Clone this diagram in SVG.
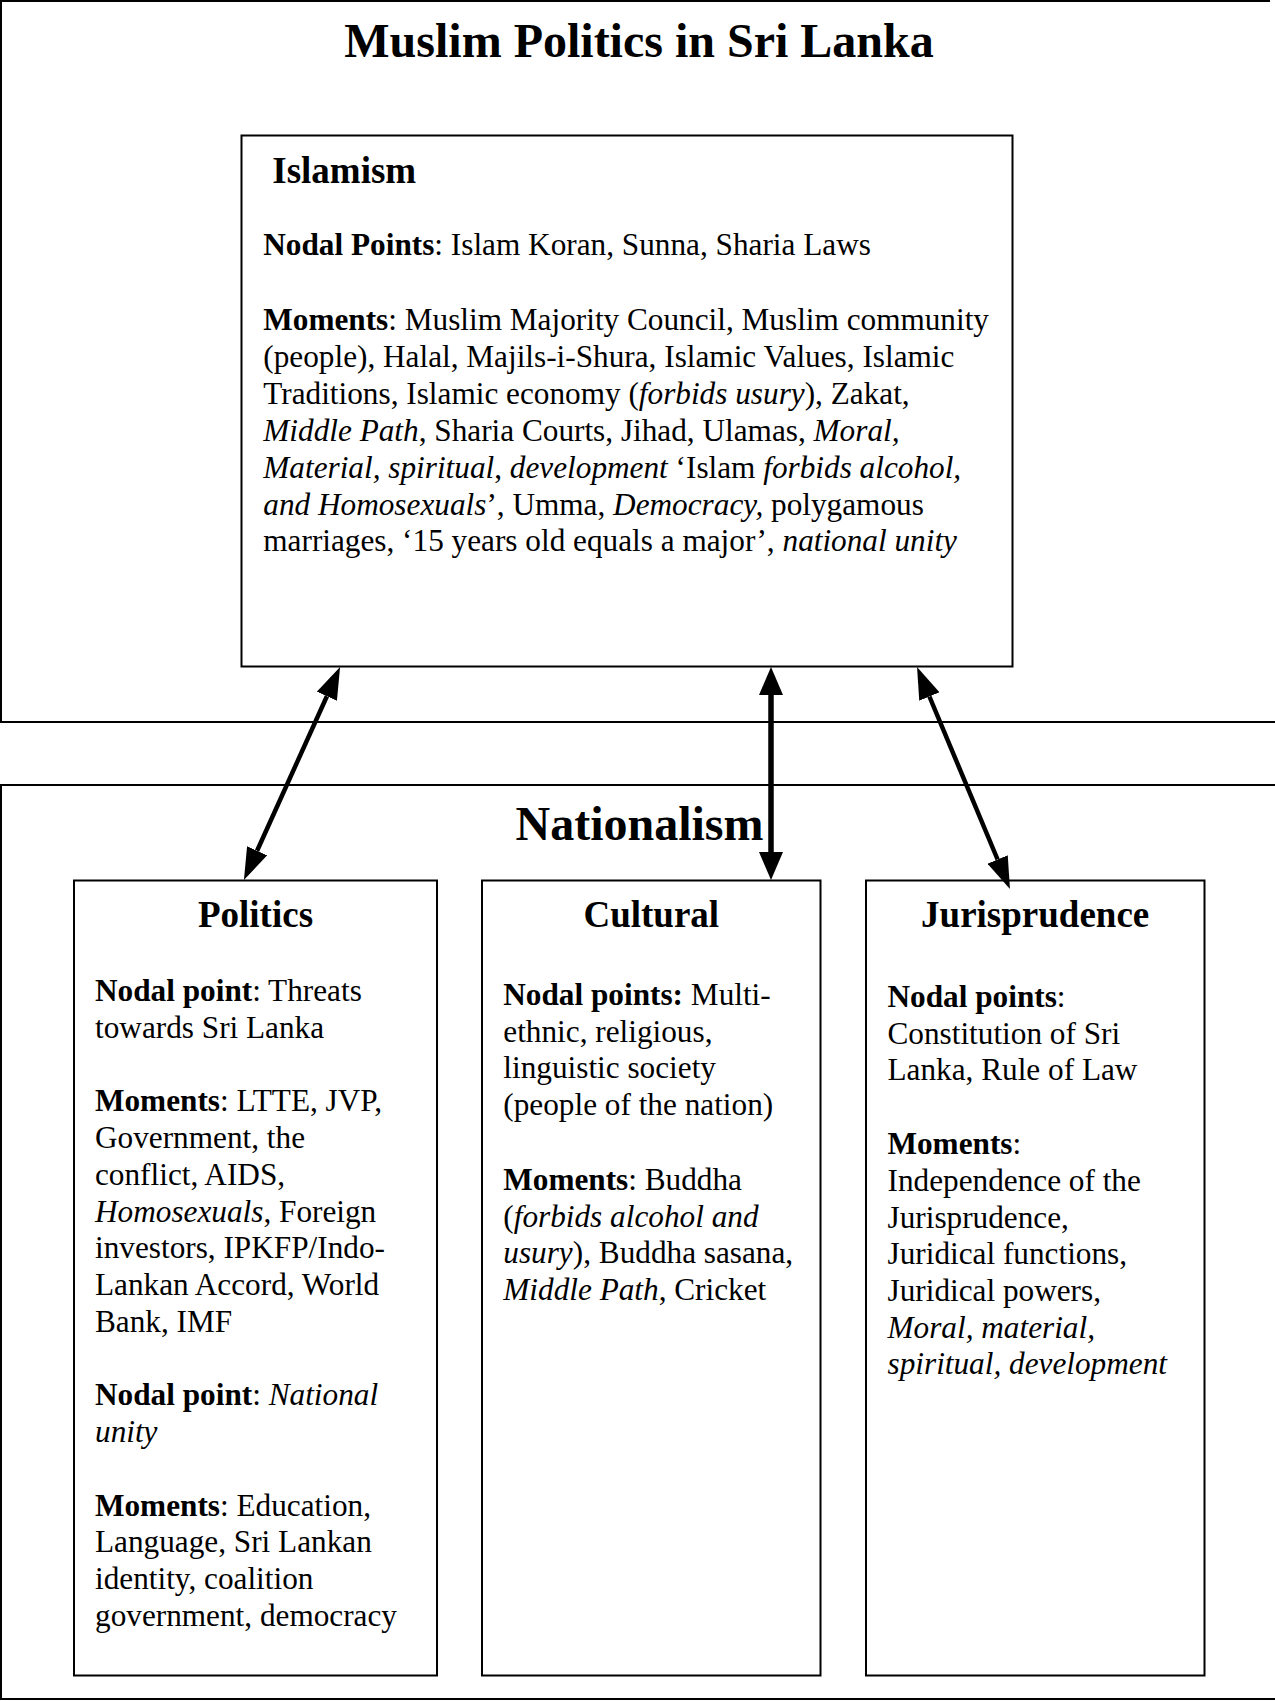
<svg xmlns="http://www.w3.org/2000/svg" width="1275" height="1701" viewBox="0 0 1275 1701">
<style>
text { font-family: "Liberation Serif", "Times New Roman", serif; fill: #000; }
.body { font-size: 31.25px; }
.h { font-size: 37px; font-weight: bold; }
.title { font-size: 48px; font-weight: bold; }
.b { font-weight: bold; }
.i { font-style: italic; }
.box { fill: #fff; stroke: #000; stroke-width: 2; }
.frame { fill: none; stroke: #000; stroke-width: 2; }
.conn { stroke: #000; fill: none; }
</style>
<defs>
<marker id="ah" markerUnits="userSpaceOnUse" markerWidth="32" markerHeight="22" refX="0" refY="11" orient="auto-start-reverse">
<path d="M0,0 L32,11 L0,22 z" fill="#000"/>
</marker>
<marker id="ahm" markerUnits="userSpaceOnUse" markerWidth="28" markerHeight="24" refX="0" refY="12" orient="auto-start-reverse">
<path d="M0,0 L28,12 L0,24 z" fill="#000"/>
</marker>
</defs>
<rect width="1275" height="1701" fill="#fff"/>

<g id="muslim-politics">
<path class="frame" d="M1270,1 H1 V722 H1275"/>
<text class="title" x="639" y="57" text-anchor="middle">Muslim Politics in Sri Lanka</text>
</g>

<g id="nationalism">
<path class="frame" d="M1275,785 H1 V1699 H1275"/>
<text class="title" x="639.5" y="840" text-anchor="middle">Nationalism</text>
</g>

<g id="islamism">
<rect class="box" x="241.5" y="135.5" width="771" height="531"/>
<text class="h" x="272.3" y="183.3">Islamism</text>
<text class="body" x="263.3" y="255"><tspan class="b">Nodal Points</tspan>: Islam Koran, Sunna, Sharia Laws</text>
<text class="body" x="263.3" y="330"><tspan class="b">Moments</tspan>: Muslim Majority Council, Muslim community</text>
<text class="body" x="263.3" y="366.9">(people), Halal, Majils-i-Shura, Islamic Values, Islamic</text>
<text class="body" x="263.3" y="403.8">Traditions, Islamic economy (<tspan class="i">forbids usury</tspan>), Zakat,</text>
<text class="body" x="263.3" y="440.7"><tspan class="i">Middle Path</tspan>, Sharia Courts, Jihad, Ulamas, <tspan class="i">Moral,</tspan></text>
<text class="body" x="263.3" y="477.6"><tspan class="i">Material, spiritual</tspan>, <tspan class="i">development</tspan> ‘Islam <tspan class="i">forbids alcohol,</tspan></text>
<text class="body" x="263.3" y="514.5"><tspan class="i">and Homosexuals</tspan>’, Umma, <tspan class="i">Democracy,</tspan> polygamous</text>
<text class="body" x="263.3" y="551.4">marriages, ‘15 years old equals a major’, <tspan class="i">national unity</tspan></text>
</g>

<g id="politics">
<rect class="box" x="74" y="880.5" width="363" height="795"/>
<text class="h" x="255.5" y="926.7" text-anchor="middle">Politics</text>
<text class="body" x="95" y="1000.7"><tspan class="b">Nodal point</tspan>: Threats</text>
<text class="body" x="95" y="1037.5">towards Sri Lanka</text>
<text class="body" x="95" y="1111.2"><tspan class="b">Moments</tspan>: LTTE, JVP,</text>
<text class="body" x="95" y="1148">Government, the</text>
<text class="body" x="95" y="1184.7">conflict, AIDS,</text>
<text class="body" x="95" y="1221.5"><tspan class="i">Homosexuals</tspan>, Foreign</text>
<text class="body" x="95" y="1258.2">investors, IPKFP/Indo-</text>
<text class="body" x="95" y="1295">Lankan Accord, World</text>
<text class="body" x="95" y="1331.7">Bank, IMF</text>
<text class="body" x="95" y="1405.2"><tspan class="b">Nodal point</tspan>: <tspan class="i">National</tspan></text>
<text class="body" x="95" y="1442"><tspan class="i">unity</tspan></text>
<text class="body" x="95" y="1515.5"><tspan class="b">Moments</tspan>: Education,</text>
<text class="body" x="95" y="1552.2">Language, Sri Lankan</text>
<text class="body" x="95" y="1589">identity, coalition</text>
<text class="body" x="95" y="1625.7">government, democracy</text>
</g>

<g id="cultural">
<rect class="box" x="482" y="880.5" width="338.5" height="795"/>
<text class="h" x="651.3" y="926.7" text-anchor="middle">Cultural</text>
<text class="body" x="503.3" y="1005"><tspan class="b">Nodal points:</tspan> Multi-</text>
<text class="body" x="503.3" y="1041.7">ethnic, religious,</text>
<text class="body" x="503.3" y="1078.4">linguistic society</text>
<text class="body" x="503.3" y="1115.1">(people of the nation)</text>
<text class="body" x="503.3" y="1190"><tspan class="b">Moments</tspan>: Buddha</text>
<text class="body" x="503.3" y="1226.7">(<tspan class="i">forbids alcohol and</tspan></text>
<text class="body" x="503.3" y="1263.4"><tspan class="i">usury</tspan>), Buddha sasana,</text>
<text class="body" x="503.3" y="1300.1"><tspan class="i">Middle Path</tspan>, Cricket</text>
</g>

<g id="jurisprudence">
<rect class="box" x="866" y="880.5" width="338.5" height="795"/>
<text class="h" x="1035.2" y="926.7" text-anchor="middle">Jurisprudence</text>
<text class="body" x="887.5" y="1007"><tspan class="b">Nodal points</tspan>:</text>
<text class="body" x="887.5" y="1043.7">Constitution of Sri</text>
<text class="body" x="887.5" y="1080.4">Lanka, Rule of Law</text>
<text class="body" x="887.5" y="1154"><tspan class="b">Moments</tspan>:</text>
<text class="body" x="887.5" y="1190.8">Independence of the</text>
<text class="body" x="887.5" y="1227.5">Jurisprudence,</text>
<text class="body" x="887.5" y="1264.2">Juridical functions,</text>
<text class="body" x="887.5" y="1301">Juridical powers,</text>
<text class="body" x="887.5" y="1337.7"><tspan class="i">Moral, material,</tspan></text>
<text class="body" x="887.5" y="1374.4"><tspan class="i">spiritual, development</tspan></text>
</g>

<g id="connectors">
<path class="conn" stroke-width="4.5" d="M326.9,696.2 L257.1,850.8" marker-start="url(#ah)" marker-end="url(#ah)"/>
<path class="conn" stroke-width="5.5" d="M771,695 L771,852" marker-start="url(#ahm)" marker-end="url(#ahm)"/>
<path class="conn" stroke-width="4.5" d="M929.4,696.5 L997.6,859.5" marker-start="url(#ah)" marker-end="url(#ah)"/>
</g>
</svg>
